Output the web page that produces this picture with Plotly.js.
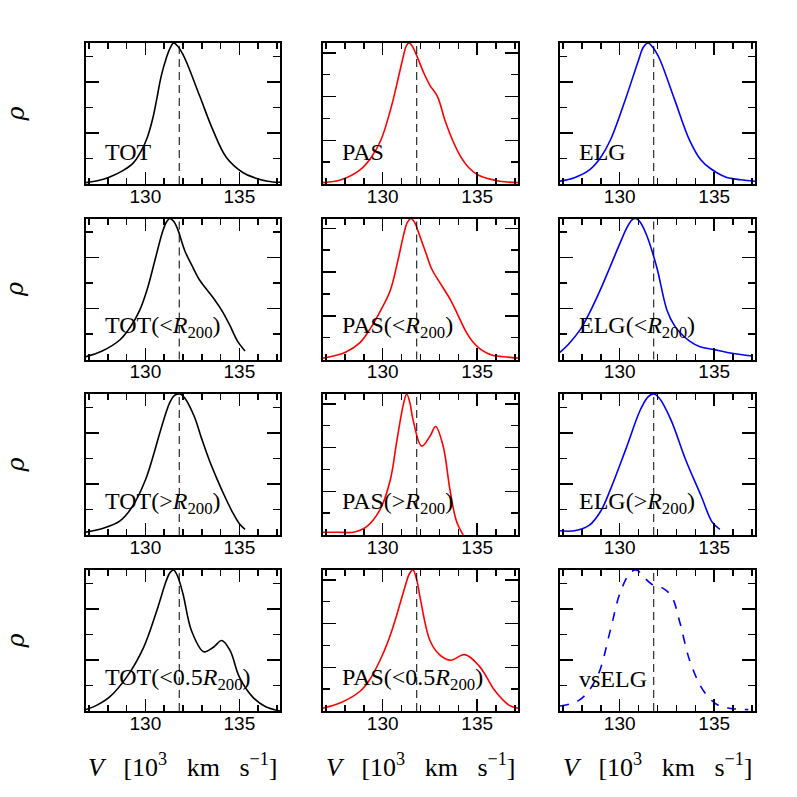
<!DOCTYPE html>
<html><head><meta charset="utf-8">
<script src="https://cdn.plot.ly/plotly-3.0.1.min.js"></script>
<style>html,body{margin:0;padding:0;background:#fff}#chart{width:797px;height:797px}</style>
</head><body><div id="chart"></div>
<script>
// ---- data (velocity in 10^3 km/s, density normalised to panel peak) ----
const V_MEAN = 131.8;
const X_RANGE = [126.84, 137.16];

const V_TOT = [126.84,127.5,128.1,128.8,129.36,129.8,130.1,130.4,130.6,130.85,131.13,131.3,131.5,131.7,131.95,132.2,132.9,133.6,134.3,135.2,135.8,136.5,137.16];
const R_TOT = [0.01,0.025,0.05,0.095,0.15,0.24,0.33,0.47,0.60,0.77,0.90,0.96,1.00,0.98,0.93,0.86,0.62,0.38,0.19,0.08,0.045,0.02,0.012];

const V_PAS = [126.84,127.8,128.8,129.4,129.9,130.4,130.7,131.1,131.25,131.4,131.55,131.8,132.2,132.5,132.9,133.3,133.7,134.1,134.6,135.1,136.2,137.16];
const R_PAS = [0.01,0.03,0.10,0.19,0.31,0.52,0.68,0.91,0.98,1.00,0.98,0.91,0.78,0.70,0.62,0.45,0.31,0.20,0.11,0.06,0.02,0.01];

const V_ELG = [126.84,127.6,128.4,129.0,129.5,130.3,131.0,131.25,131.5,131.75,132.1,132.9,133.7,134.3,134.8,135.6,136.4,137.16];
const R_ELG = [0.02,0.045,0.10,0.19,0.31,0.60,0.88,0.97,1.00,0.97,0.89,0.60,0.31,0.17,0.11,0.05,0.03,0.02];

const V_TOT_IN = [126.84,127.7,128.65,129.2,129.7,130.1,130.5,130.9,131.1,131.3,131.5,131.7,132.1,132.5,132.9,133.3,133.7,134.1,134.5,134.9,135.3];
const R_TOT_IN = [0.02,0.06,0.14,0.23,0.35,0.50,0.70,0.90,0.97,1.00,0.98,0.93,0.77,0.66,0.56,0.49,0.42,0.34,0.24,0.13,0.06];

const V_PAS_IN = [126.84,128.0,128.8,129.3,129.9,130.4,130.8,131.1,131.3,131.5,131.7,131.9,132.3,132.6,133.0,133.6,134.0,134.4,134.8,135.2,135.8,136.4,137.16];
const R_PAS_IN = [0.01,0.05,0.12,0.21,0.35,0.49,0.70,0.88,0.97,1.00,0.97,0.90,0.75,0.64,0.55,0.42,0.31,0.20,0.12,0.07,0.03,0.02,0.01];

const V_ELG_IN = [126.84,127.3,127.9,128.4,128.96,129.5,130.0,130.4,130.65,130.85,131.05,131.4,131.95,132.5,132.9,133.2,133.7,134.25,135.0,135.7,136.4,137.0];
const R_ELG_IN = [0.05,0.11,0.21,0.33,0.49,0.66,0.82,0.94,0.99,1.00,0.98,0.89,0.66,0.35,0.24,0.19,0.13,0.09,0.07,0.05,0.035,0.025];

const V_TOT_OUT = [126.84,127.8,128.65,129.3,130.0,130.5,130.8,131.3,131.55,131.85,132.1,132.6,133.0,133.4,133.8,134.2,134.6,135.0,135.3];
const R_TOT_OUT = [0.02,0.05,0.10,0.20,0.39,0.60,0.74,0.94,0.99,1.00,0.97,0.84,0.68,0.53,0.40,0.28,0.17,0.08,0.04];

const V_PAS_OUT = [126.84,127.6,128.45,129.15,129.86,130.4,130.75,131.1,131.27,131.45,131.6,132.06,132.5,132.8,133.2,133.56,133.9,134.26];
const R_PAS_OUT = [0.02,0.02,0.02,0.06,0.18,0.39,0.67,0.93,1.00,0.93,0.82,0.63,0.70,0.77,0.63,0.32,0.10,0.00];

const V_ELG_OUT = [126.84,127.6,128.4,129.0,129.5,130.3,131.1,131.5,131.8,132.1,132.7,133.5,134.3,134.9,135.3];
const R_ELG_OUT = [0.03,0.03,0.07,0.17,0.32,0.60,0.89,0.98,1.00,0.97,0.82,0.53,0.28,0.09,0.04];

const V_TOT_C = [126.84,127.4,128.1,129.0,129.9,130.6,131.1,131.3,131.5,131.7,132.0,132.45,133.1,133.6,134.06,134.5,135.0,135.7,136.4,137.16];
const R_TOT_C = [0.01,0.04,0.10,0.24,0.45,0.71,0.92,0.98,1.00,0.96,0.83,0.57,0.42,0.45,0.50,0.43,0.24,0.10,0.03,0.00];

const V_PAS_C = [126.84,127.8,128.8,129.3,129.86,130.3,130.65,131.2,131.4,131.6,131.8,132.0,132.5,133.0,133.6,134.35,135.1,135.5,135.9,136.7,137.16];
const R_PAS_C = [0.02,0.06,0.14,0.22,0.36,0.50,0.64,0.89,0.97,1.00,0.93,0.79,0.50,0.40,0.36,0.40,0.32,0.24,0.15,0.04,0.02];

const V_VSELG = [126.84,127.9,128.8,129.5,130.0,130.55,130.86,131.1,131.35,131.8,132.3,132.76,133.2,133.7,134.4,135.1,135.8,136.8];
const R_VSELG = [0.035,0.08,0.24,0.57,0.83,0.98,1.00,0.98,0.94,0.89,0.87,0.81,0.62,0.36,0.15,0.05,0.02,0.01];

const PANELS = [
  {v:V_TOT, r:R_TOT, label:'TOT', color:'black', dash:'solid'},
  {v:V_PAS, r:R_PAS, label:'PAS', color:'red', dash:'solid'},
  {v:V_ELG, r:R_ELG, label:'ELG', color:'blue', dash:'solid'},
  {v:V_TOT_IN, r:R_TOT_IN, label:'TOT(&lt;<i>R</i><sub>200</sub>)', color:'black', dash:'solid'},
  {v:V_PAS_IN, r:R_PAS_IN, label:'PAS(&lt;<i>R</i><sub>200</sub>)', color:'red', dash:'solid'},
  {v:V_ELG_IN, r:R_ELG_IN, label:'ELG(&lt;<i>R</i><sub>200</sub>)', color:'blue', dash:'solid'},
  {v:V_TOT_OUT, r:R_TOT_OUT, label:'TOT(&gt;<i>R</i><sub>200</sub>)', color:'black', dash:'solid'},
  {v:V_PAS_OUT, r:R_PAS_OUT, label:'PAS(&gt;<i>R</i><sub>200</sub>)', color:'red', dash:'solid'},
  {v:V_ELG_OUT, r:R_ELG_OUT, label:'ELG(&gt;<i>R</i><sub>200</sub>)', color:'blue', dash:'solid'},
  {v:V_TOT_C, r:R_TOT_C, label:'TOT(&lt;0.5<i>R</i><sub>200</sub>)', color:'black', dash:'solid'},
  {v:V_PAS_C, r:R_PAS_C, label:'PAS(&lt;0.5<i>R</i><sub>200</sub>)', color:'red', dash:'solid'},
  {v:V_VSELG, r:R_VSELG, label:'vsELG', color:'blue', dash:'dash'}
];
// y-tick spacing (minor) per panel in normalised units
const Y_MINOR = [0.181,0.155,0.181, 0.181,0.155,0.181, 0.181,0.155,0.181, 0.181,0.155,0.181];

// ---- layout geometry (pixels) ----
const W = 797, H = 797;
const COLS = [[86,280],[323,518],[560,755]];
const ROWS = [[43,184],[218.5,359.5],[394,535],[570,711]];

const data = [];
const layout = {
  width: W, height: H, margin:{l:0,r:0,t:0,b:0},
  paper_bgcolor:'white', plot_bgcolor:'white', showlegend:false,
  shapes: [], annotations: []
};
const SERIF = 'Liberation Serif, Times New Roman, serif';
const SANS = 'Liberation Sans, Arial, sans-serif';
const SP = '\u00a0\u00a0\u00a0';

PANELS.forEach((p, i) => {
  const row = Math.floor(i/3), col = i%3;
  const n = i+1;
  const xa = n===1 ? 'xaxis' : 'xaxis'+n;
  const ya = n===1 ? 'yaxis' : 'yaxis'+n;
  const xr = n===1 ? 'x' : 'x'+n;
  const yr = n===1 ? 'y' : 'y'+n;
  data.push({type:'scatter', mode:'lines', x:p.v, y:p.r, xaxis:xr, yaxis:yr,
    line:{color:p.color, width:1.6, dash:p.dash, shape:'spline', smoothing:1.0},
    hoverinfo:'skip', cliponaxis:true});
  layout[xa] = {
    domain:[COLS[col][0]/W, COLS[col][1]/W], anchor:yr,
    range:X_RANGE, showgrid:false, zeroline:false,
    showline:true, linecolor:'black', linewidth:2, mirror:'ticks',
    ticks:'inside', tick0:130, dtick:5, ticklen:12, tickwidth:1.5, tickcolor:'black',
    minor:{ticks:'inside', dtick:1, tick0:130, ticklen:6, tickwidth:1.5, tickcolor:'black', showgrid:false},
    tickfont:{family:SANS, size:19, color:'black'}, ticklabelstandoff:-6
  };
  const ym = Y_MINOR[i];
  layout[ya] = {
    domain:[1-ROWS[row][1]/H, 1-ROWS[row][0]/H], anchor:xr,
    range:[0,1], showgrid:false, zeroline:false,
    showline:true, linecolor:'black', linewidth:2, mirror:'ticks',
    ticks:'inside', tick0:0, dtick:2*ym, ticklen:13, tickwidth:1.5, tickcolor:'black',
    minor:{ticks:'inside', dtick:ym, tick0:0, ticklen:7, tickwidth:1.5, tickcolor:'black', showgrid:false},
    showticklabels:false
  };
  layout.shapes.push({type:'line', xref:xr, yref:yr+' domain', x0:V_MEAN, x1:V_MEAN, y0:0, y1:1,
    line:{color:'black', width:1, dash:'8px,5px'}});
  layout.annotations.push({xref:xr+' domain', yref:yr+' domain', x:0.087, y:0.23,
    xanchor:'left', yanchor:'middle', showarrow:false, text:p.label,
    font:{family:SERIF, size:24, color:'black'}});
  if (col===0) {
    layout.annotations.push({xref:'paper', yref:yr+' domain', x:15/W, y:0.5,
      xanchor:'center', yanchor:'middle', showarrow:false, text:'<i>ρ</i>', textangle:-90,
      font:{family:'DejaVu Serif, serif', size:24, color:'black'}});
  }
  if (row===3) {
    layout.annotations.push({xref:xr+' domain', yref:'paper', x:0.5, y:1-765/H,
      xanchor:'center', yanchor:'middle', showarrow:false,
      text:'<i>V</i>'+SP+'[10<sup>3</sup>'+SP+'km'+SP+'s<sup>−1</sup>]',
      font:{family:SERIF, size:26, color:'black'}});
  }
});

Plotly.newPlot('chart', data, layout, {staticPlot:true, displayModeBar:false});
</script>
</body></html>
